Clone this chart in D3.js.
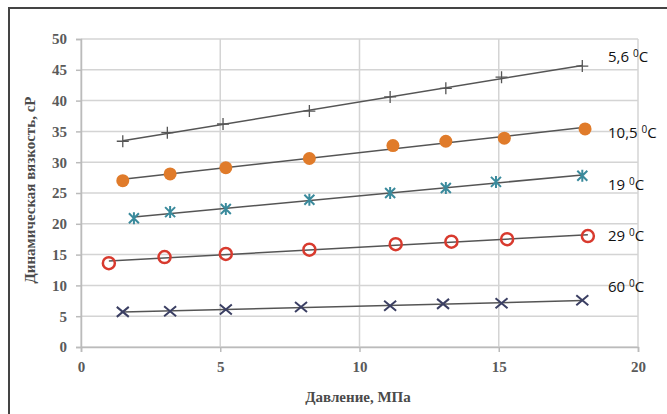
<!DOCTYPE html>
<html>
<head>
<meta charset="utf-8">
<script src="https://cdn.jsdelivr.net/npm/d3@7"></script>
<style>
  body { margin: 0; background: #fff; }
  .tick text { font-family: "Liberation Serif", "DejaVu Serif", serif; font-size: 15px; font-weight: bold; fill: #5a5a5a; }
  .title { font-family: "Liberation Serif", "DejaVu Serif", serif; font-size: 15px; font-weight: bold; fill: #4a4a4a; }
  .label { font-family: "Open Sans", sans-serif; font-size: 15px; fill: #111; }
</style>
</head>
<body>
<svg width="667" height="414"></svg>
<script>
// temperatures (labels on the right)
const temps = ['5,6', '10,5', '19', '29', '60'];

// pressure, MPa, per series
const p56 = [1.5, 3.1, 5.1, 8.2, 11.1, 13.1, 15.1, 18.0];
const p105 = [1.5, 3.2, 5.2, 8.2, 11.2, 13.1, 15.2, 18.1];
const p19 = [1.9, 3.2, 5.2, 8.2, 11.1, 13.1, 14.9, 18.0];
const p29 = [1.0, 3.0, 5.2, 8.2, 11.3, 13.3, 15.3, 18.2];
const p60 = [1.5, 3.2, 5.2, 7.9, 11.1, 13.0, 15.1, 18.0];

// dynamic viscosity, cP
const v56 = [33.4, 34.8, 36.2, 38.3, 40.6, 42.0, 43.8, 45.6];
const v105 = [27.0, 28.1, 29.1, 30.6, 32.7, 33.4, 33.9, 35.4];
const v19 = [20.9, 21.9, 22.4, 23.9, 25.0, 25.8, 26.8, 27.8];
const v29 = [13.6, 14.6, 15.1, 15.8, 16.7, 17.1, 17.5, 18.0];
const v60 = [5.7, 5.8, 6.1, 6.5, 6.7, 7.0, 7.1, 7.6];

const xTicks = [0, 5, 10, 15, 20];
const yTicks = [0, 5, 10, 15, 20, 25, 30, 35, 40, 45, 50];

const series = [
  { name: temps[0], xs: p56, ys: v56, marker: 'plus', color: '#555' },
  { name: temps[1], xs: p105, ys: v105, marker: 'dot', color: '#e07b2a' },
  { name: temps[2], xs: p19, ys: v19, marker: 'star', color: '#3a8a9c' },
  { name: temps[3], xs: p29, ys: v29, marker: 'ring', color: '#d83a2e' },
  { name: temps[4], xs: p60, ys: v60, marker: 'cross', color: '#3b3f63' }
];
const labelY = [57, 133, 185, 236, 287];

const svg = d3.select('svg');

// frame (top and left only)
svg.append('path').attr('d', 'M9,414V8H667').attr('fill', 'none')
  .attr('stroke', '#444').attr('stroke-width', 2);

const x = d3.scaleLinear().domain([0, 20]).range([81, 638]);
const y = d3.scaleLinear().domain([0, 50]).range([347, 39]);

// grid
svg.append('g').selectAll('line').data(yTicks).enter().append('line')
  .attr('x1', x(0)).attr('x2', x(20))
  .attr('y1', d => y(d)).attr('y2', d => y(d))
  .attr('stroke', '#d4d4d4').attr('stroke-width', 1.5);
svg.append('g').selectAll('line').data(xTicks).enter().append('line')
  .attr('x1', d => x(d)).attr('x2', d => x(d))
  .attr('y1', y(0)).attr('y2', y(50))
  .attr('stroke', '#d4d4d4').attr('stroke-width', 1.5);

// axes
const xAxis = svg.append('g').attr('transform', `translate(0,${y(0)})`)
  .call(d3.axisBottom(x).tickValues(xTicks).tickSize(5).tickPadding(9));
const yAxis = svg.append('g').attr('transform', `translate(${x(0)},0)`)
  .call(d3.axisLeft(y).tickValues(yTicks).tickSize(5).tickPadding(9));
[xAxis, yAxis].forEach(a => {
  a.select('.domain').attr('stroke', '#bbb').attr('stroke-width', 1.5);
  a.selectAll('.tick line').attr('stroke', '#bbb').attr('stroke-width', 1.5);
});

// axis titles
svg.append('text').attr('class', 'title').attr('x', 358).attr('y', 402).attr('text-anchor', 'middle')
  .text('Давление, МПа');
svg.append('text').attr('class', 'title').attr('transform', 'translate(35,190) rotate(-90)')
  .attr('text-anchor', 'middle')
  .text('Динамическая вязкость, cP');

// least squares trend line
function fit(xs, ys) {
  const mx = d3.mean(xs), my = d3.mean(ys);
  const b = d3.sum(xs, (v, i) => (v - mx) * (ys[i] - my)) / d3.sum(xs, v => (v - mx) * (v - mx));
  return v => my + b * (v - mx);
}

const line = d3.line().x(d => x(d[0])).y(d => y(d[1]));

series.forEach((s, k) => {
  const f = fit(s.xs, s.ys);
  const ext = d3.extent(s.xs);
  svg.append('path').datum(ext.map(v => [v, f(v)]))
    .attr('d', line).attr('fill', 'none').attr('stroke', '#555').attr('stroke-width', 1.5);

  const g = svg.append('g');
  const pts = g.selectAll('g').data(s.xs.map((v, i) => [v, s.ys[i]])).enter().append('g')
    .attr('transform', d => `translate(${x(d[0])},${y(d[1])})`);
  if (s.marker === 'plus') {
    pts.append('path').attr('d', 'M-6,0H6M0,-6V6').attr('stroke', s.color).attr('stroke-width', 1.3);
  } else if (s.marker === 'dot') {
    pts.append('circle').attr('r', 6.5).attr('fill', s.color);
  } else if (s.marker === 'star') {
    pts.append('path').attr('d', 'M-5,-5L5,5M-5,5L5,-5M0,-6V6')
      .attr('stroke', s.color).attr('stroke-width', 2);
  } else if (s.marker === 'ring') {
    pts.append('circle').attr('r', 6).attr('fill', 'none').attr('stroke', s.color).attr('stroke-width', 2.5);
  } else {
    pts.append('path').attr('d', 'M-6,-5L6,5M-6,5L6,-5').attr('stroke', s.color).attr('stroke-width', 2);
  }

  const t = svg.append('text').attr('class', 'label').attr('x', 608).attr('y', labelY[k] + 5);
  t.append('tspan').text(s.name + ' ');
  t.append('tspan').attr('dy', -5).style('font-size', '10px').text('0');
  t.append('tspan').attr('dy', 5).text('C');
});
</script>
</body>
</html>
